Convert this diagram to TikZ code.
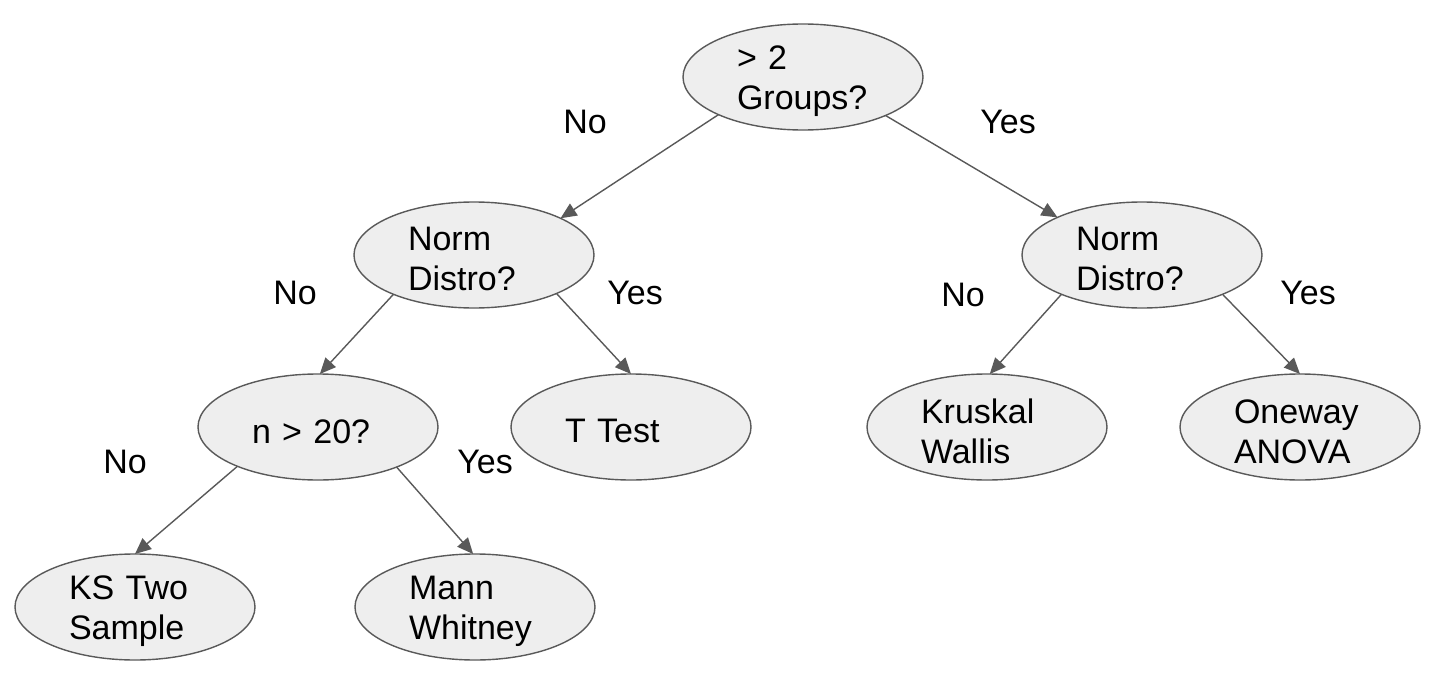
\documentclass[tikz,border=0pt]{standalone}
\usepackage{fontspec}
\setmainfont{Liberation Sans}
\usetikzlibrary{arrows.meta,shapes.geometric}
\definecolor{linegray}{HTML}{595959}
\definecolor{fillgray}{HTML}{EEEEEE}
\begin{document}
\begin{tikzpicture}[x=0.5pt,y=-0.5pt,
  ell/.style={ellipse, draw=linegray, fill=fillgray, line width=0.7pt,
    minimum width=120pt, minimum height=53pt, inner sep=0pt, outer sep=0pt},
  txt/.style={text width=66pt, align=left, inner sep=0pt, yshift=-2.2pt,
    font=\fontsize{17pt}{20pt}\selectfont},
  edge/.style={draw=linegray, line width=0.7pt, -{Triangle[length=8pt,width=7pt]}},
  ans/.style={inner sep=0pt, font=\fontsize{17pt}{20pt}\selectfont}]
\useasboundingbox (0,0) rectangle (1442,680);

\node[ell, label={[txt]center:{> 2\\Groups?}}] (top) at (803,77) {};
\node[ell, label={[txt]center:{Norm\\Distro?}}] (nl) at (474,255) {};
\node[ell, label={[txt]center:{Norm\\Distro?}}] (nr) at (1142,255) {};
\node[ell, label={[txt]center:{n > 20?}}] (n20) at (318,427) {};
\node[ell, label={[txt]center:{T Test}}] (tt) at (631,427) {};
\node[ell, label={[txt]center:{Kruskal\\Wallis}}] (kw) at (987,427) {};
\node[ell, label={[txt]center:{Oneway\\ANOVA}}] (ow) at (1300,427) {};
\node[ell, label={[txt]center:{KS Two\\Sample}}] (ks) at (135,607) {};
\node[ell, label={[txt]center:{Mann\\Whitney}}] (mw) at (475,607) {};

\draw[edge] (top.204.6) -- (nl.23.8);
\draw[edge] (top.335.4) -- (nr.156);
\draw[edge] (nl.206) -- (n20.88);
\draw[edge] (nl.335) -- (tt.90);
\draw[edge] (n20.206.8) -- (ks.90);
\draw[edge] (n20.333.7) -- (mw.92);
\draw[edge] (nr.206) -- (kw.87);
\draw[edge] (nr.334) -- (ow.90);

\node[ans] (a1) at (585,122) {No};
\node[ans] (a2) at (1008,122) {Yes};
\node[ans] (a3) at (295,293) {No};
\node[ans] (a4) at (635,293) {Yes};
\node[ans] (a5) at (963,295) {No};
\node[ans] (a6) at (1308,293) {Yes};
\node[ans] (a7) at (125,462) {No};
\node[ans] (a8) at (485,462) {Yes};
\end{tikzpicture}
\end{document}
